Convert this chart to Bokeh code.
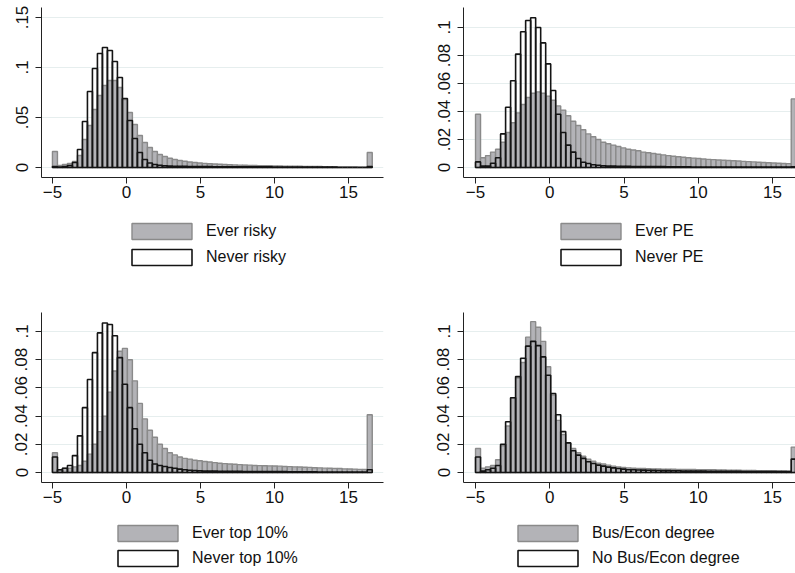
import numpy as np
from bokeh.plotting import figure
from bokeh.layouts import column, row
from bokeh.models import FixedTicker, Legend, Range1d
from bokeh.embed import file_html
from bokeh.resources import INLINE

# ---------------- data ----------------
BIN_START = -5.0
BIN_WIDTH = 0.3375
N_BINS = 64

x_ticks = [-5, 0, 5, 10, 15]
y_ticks_a = [0, 0.05, 0.1, 0.15]
y_labels_a = ["0", ".05", ".1", ".15"]
y_ticks_b = [0, 0.02, 0.04, 0.06, 0.08, 0.1]
y_labels_b = ["0", ".02", ".04", ".06", ".08", ".1"]

ever_risky = [0.016, 0.002, 0.003, 0.004, 0.006, 0.012, 0.028, 0.042, 0.058, 0.072,
              0.082, 0.087, 0.087, 0.080, 0.068, 0.055, 0.043, 0.032, 0.025, 0.020,
              0.016, 0.013, 0.011, 0.0093, 0.008, 0.007, 0.0062, 0.0055, 0.005, 0.0045,
              0.0041, 0.0038, 0.0035, 0.0032, 0.003, 0.0028, 0.0026, 0.0024, 0.0022, 0.0021,
              0.002, 0.0019, 0.0018, 0.0017, 0.0016, 0.0015, 0.0014, 0.0013, 0.0012, 0.0012,
              0.0011, 0.0011, 0.001, 0.001, 0.0009, 0.0009, 0.0008, 0.0008, 0.0007, 0.0007,
              0.0007, 0.0006, 0.0006, 0.015]
never_risky = [0.001, 0.0005, 0.001, 0.002, 0.005, 0.018, 0.046, 0.076, 0.099, 0.114,
               0.120, 0.117, 0.106, 0.090, 0.069, 0.047, 0.029, 0.015, 0.008, 0.0045,
               0.003, 0.0022, 0.0018, 0.0015, 0.0013, 0.0012, 0.0011, 0.001, 0.001, 0.0009,
               0.0009, 0.0009, 0.0008, 0.0008, 0.0008, 0.0007, 0.0007, 0.0007, 0.0007, 0.0006,
               0.0006, 0.0006, 0.0006, 0.0006, 0.0005, 0.0005, 0.0005, 0.0005, 0.0005, 0.0005,
               0.0004, 0.0004, 0.0004, 0.0004, 0.0004, 0.0004, 0.0004, 0.0, 0.0, 0.0,
               0.0, 0.0, 0.0, 0.001]

ever_pe = [0.038, 0.007, 0.0085, 0.011, 0.013, 0.018, 0.025, 0.032, 0.039, 0.045,
           0.050, 0.053, 0.054, 0.053, 0.051, 0.048, 0.044, 0.041, 0.037, 0.033,
           0.030, 0.027, 0.024, 0.022, 0.020, 0.018, 0.017, 0.016, 0.015, 0.014,
           0.013, 0.0125, 0.012, 0.011, 0.0105, 0.010, 0.0095, 0.009, 0.0085, 0.008,
           0.0077, 0.0073, 0.007, 0.0067, 0.0064, 0.0061, 0.0058, 0.0056, 0.0054, 0.0052,
           0.005, 0.0048, 0.0046, 0.0044, 0.0042, 0.004, 0.0038, 0.0036, 0.0034, 0.0032,
           0.003, 0.0029, 0.0028, 0.049]
never_pe = [0.004, 0.001, 0.001, 0.003, 0.007, 0.024, 0.043, 0.062, 0.081, 0.097,
            0.105, 0.107, 0.100, 0.089, 0.074, 0.055, 0.038, 0.025, 0.016, 0.011,
            0.0064, 0.0038, 0.0029, 0.002, 0.0016, 0.0013, 0.0011, 0.001, 0.0009, 0.0008,
            0.0008, 0.0007, 0.0007, 0.0007, 0.0006, 0.0006, 0.0006, 0.0006, 0.0005, 0.0005,
            0.0005, 0.0005, 0.0005, 0.0004, 0.0004, 0.0004, 0.0004, 0.0004, 0.0004, 0.0003,
            0.0003, 0.0003, 0.0003, 0.0003, 0.0003, 0.0003, 0.0003, 0.0003, 0.0003, 0.0003,
            0.0003, 0.0003, 0.0003, 0.0005]

ever_top10 = [0.014, 0.002, 0.003, 0.003, 0.004, 0.005, 0.008, 0.013, 0.020, 0.029,
              0.040, 0.057, 0.072, 0.086, 0.088, 0.080, 0.065, 0.049, 0.038, 0.030,
              0.025, 0.020, 0.017, 0.014, 0.0125, 0.011, 0.010, 0.0095, 0.0087, 0.0083,
              0.0078, 0.0074, 0.007, 0.0066, 0.0063, 0.006, 0.0058, 0.0056, 0.0054, 0.0052,
              0.005, 0.0049, 0.0048, 0.0047, 0.0046, 0.0045, 0.0043, 0.0042, 0.004, 0.0039,
              0.0037, 0.0036, 0.0034, 0.0033, 0.0031, 0.003, 0.0029, 0.0028, 0.0026, 0.0025,
              0.0024, 0.0022, 0.0021, 0.041]
never_top10 = [0.011, 0.002, 0.003, 0.005, 0.012, 0.026, 0.046, 0.066, 0.085, 0.099,
               0.106, 0.105, 0.097, 0.0815, 0.0626, 0.046, 0.031, 0.020, 0.014, 0.0087,
               0.006, 0.005, 0.0043, 0.0035, 0.003, 0.0024, 0.002, 0.0016, 0.0014, 0.0012,
               0.0011, 0.001, 0.001, 0.0009, 0.0009, 0.0008, 0.0008, 0.0008, 0.0007, 0.0007,
               0.0007, 0.0007, 0.0006, 0.0006, 0.0006, 0.0006, 0.0006, 0.0005, 0.0005, 0.0005,
               0.0005, 0.0005, 0.0005, 0.0004, 0.0004, 0.0004, 0.0004, 0.0004, 0.0004, 0.0004,
               0.0004, 0.0004, 0.0004, 0.002]

bus_econ = [0.017, 0.003, 0.004, 0.005, 0.009, 0.019, 0.033, 0.053, 0.067, 0.078,
            0.096, 0.107, 0.103, 0.093, 0.075, 0.055, 0.037, 0.027, 0.021, 0.017,
            0.014, 0.0115, 0.0095, 0.008, 0.0066, 0.006, 0.0052, 0.0045, 0.004, 0.0036,
            0.0033, 0.003, 0.0029, 0.0028, 0.0027, 0.0026, 0.0025, 0.0024, 0.0024, 0.0023,
            0.0022, 0.0022, 0.0021, 0.0021, 0.002, 0.002, 0.0019, 0.0019, 0.0018, 0.0018,
            0.0017, 0.0016, 0.0016, 0.0015, 0.0015, 0.0014, 0.0013, 0.0013, 0.0012, 0.0012,
            0.0011, 0.0011, 0.001, 0.018]
no_bus_econ = [0.011, 0.001, 0.002, 0.003, 0.005, 0.020, 0.036, 0.053, 0.068, 0.081,
               0.0896, 0.093, 0.090, 0.082, 0.069, 0.056, 0.041, 0.029, 0.021, 0.0154,
               0.0123, 0.010, 0.0076, 0.0064, 0.0052, 0.0045, 0.0038, 0.0033, 0.0028, 0.0024,
               0.002, 0.0019, 0.0018, 0.0017, 0.0016, 0.0015, 0.0014, 0.0013, 0.0013, 0.0012,
               0.0012, 0.0011, 0.0011, 0.001, 0.001, 0.001, 0.0009, 0.0009, 0.0009, 0.0008,
               0.0008, 0.0008, 0.0008, 0.0007, 0.0007, 0.0007, 0.0007, 0.0006, 0.0006, 0.0006,
               0.0006, 0.0006, 0.0006, 0.0095]

centers = BIN_START + BIN_WIDTH * (np.arange(N_BINS) + 0.5)

FONT = "Liberation Sans"
GRAY_FILL = "#b3b3b7"
GRAY_LINE = "#8a8a8a"
BLACK_LINE = "#141414"
GRID = "#e6eeee"

GRAY_STYLE = dict(fill_color=GRAY_FILL, line_color=GRAY_LINE, line_width=1.4)
BLACK_STYLE = dict(fill_color="white", line_color=BLACK_LINE, line_width=1.6)
BLACK_BAR_STYLE = dict(fill_color=None, line_color=BLACK_LINE, line_width=1.6)


def hist_panel(gray, black, yt, yl, xr, yr, w, h, bl, br, bt, bb):
    p = figure(output_backend="svg", toolbar_location=None,
               width=w, height=h,
               x_range=Range1d(*xr), y_range=Range1d(*yr),
               min_border_left=bl, min_border_right=br,
               min_border_top=bt, min_border_bottom=bb)
    p.outline_line_color = None
    p.background_fill_color = "white"
    p.border_fill_color = "white"
    p.xgrid.grid_line_color = None
    p.ygrid.grid_line_color = GRID
    p.ygrid.grid_line_width = 1
    p.ygrid.ticker = FixedTicker(ticks=yt)

    p.vbar(x=centers, top=gray, width=BIN_WIDTH, bottom=0, **GRAY_STYLE)
    p.vbar(x=centers, top=black, width=BIN_WIDTH, bottom=0, **BLACK_BAR_STYLE)

    p.xaxis.ticker = FixedTicker(ticks=x_ticks)
    p.yaxis.ticker = FixedTicker(ticks=yt)
    p.yaxis.major_label_overrides = {t: l for t, l in zip(yt, yl)}
    p.yaxis.major_label_orientation = "vertical"
    for ax in (p.xaxis, p.yaxis):
        ax.axis_line_color = "#222222"
        ax.major_tick_line_color = "#222222"
        ax.minor_tick_line_color = None
        ax.major_tick_out = 6
        ax.major_tick_in = 0
        ax.major_label_text_font = FONT
        ax.major_label_text_font_size = "17px"
        ax.major_label_text_color = "#111111"
    p.xaxis.major_label_standoff = 2
    p.yaxis.major_label_standoff = 8
    return p


def legend_panel(gray_label, black_label, w, h, bl, gap, spacing):
    # legend-only strip: its two swatch renderers are hidden, only the legend shows
    p = figure(output_backend="svg", toolbar_location=None,
               width=w, height=h, x_range=Range1d(0, 1), y_range=Range1d(0, 1),
               x_axis_location=None, y_axis_location=None,
               min_border_left=bl, min_border_right=0,
               min_border_top=0, min_border_bottom=0)
    p.outline_line_color = None
    p.grid.grid_line_color = None
    p.background_fill_color = "white"
    p.border_fill_color = "white"
    rg = p.vbar(x=[0.5], top=[0], width=0, bottom=0, **GRAY_STYLE)
    rb = p.vbar(x=[0.5], top=[0], width=0, bottom=0, **BLACK_STYLE)
    rg.visible = False
    rb.visible = False
    leg = Legend(items=[(gray_label, [rg]), (black_label, [rb])],
                 location="top_left", orientation="vertical",
                 border_line_color=None, background_fill_alpha=0,
                 inactive_fill_alpha=0,
                 glyph_width=75, glyph_height=20, label_height=16,
                 label_standoff=7, spacing=spacing, padding=0, margin=gap,
                 label_text_font=FONT, label_text_font_size="16px",
                 label_text_color="#111111")
    p.add_layout(leg)
    return p


xr_left = (-5.74, 17.36)
xr_right = (-5.81, 16.55)

h1 = hist_panel(ever_risky, never_risky, y_ticks_a, y_labels_a,
                xr_left, (-0.01, 0.16), 422, 207, 41, 39, 7, 30)
h2 = hist_panel(ever_pe, never_pe, y_ticks_b, y_labels_b,
                xr_right, (-10 / 1400, 160 / 1400), 373, 207, 41, 0, 7, 30)
l1 = legend_panel("Ever risky", "Never risky", 422, 93, 110, 14, 6)
l2 = legend_panel("Ever PE", "Never PE", 373, 93, 117, 14, 6)

h3 = hist_panel(ever_top10, never_top10, y_ticks_b, y_labels_b,
                xr_left, (-10 / 1410, 160 / 1410), 422, 212, 41, 39, 12, 30)
h4 = hist_panel(bus_econ, no_bus_econ, y_ticks_b, y_labels_b,
                xr_right, (-10 / 1410, 160 / 1410), 373, 212, 41, 0, 12, 30)
l3 = legend_panel("Ever top 10%", "Never top 10%", 422, 61, 99, 11, 5)
l4 = legend_panel("Bus/Econ degree", "No Bus/Econ degree", 373, 61, 77, 11, 5)

layout = column(row(h1, h2), row(l1, l2), row(h3, h4), row(l3, l4))

open("out.html", "w").write(file_html(layout, INLINE))
